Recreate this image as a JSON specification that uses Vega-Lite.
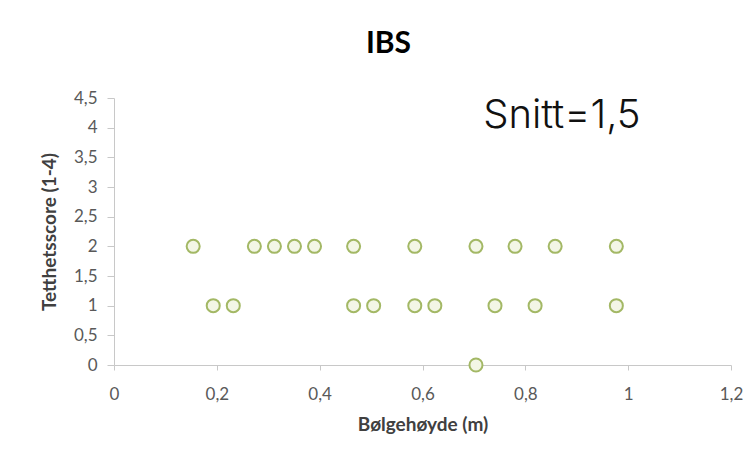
{
  "$schema": "https://vega.github.io/schema/vega-lite/v6.json",
  "autosize": "none",
  "width": 617,
  "height": 267,
  "padding": {"left": 114, "top": 98, "right": 17, "bottom": 93},
  "background": "white",
  "config": {
    "view": {"stroke": null},
    "locale": {"number": {"decimal": ",", "thousands": " ", "grouping": [3], "currency": ["", " kr"]}},
    "font": "Lato"
  },
  "title": {
    "text": "IBS",
    "fontSize": 30,
    "fontWeight": "bold",
    "font": "Lato",
    "color": "#000000",
    "dx": -34,
    "offset": 30,
    "anchor": "middle"
  },
  "layer": [
    {
      "data": {"values": [
        {"x": 0.154, "y": 2}, {"x": 0.273, "y": 2}, {"x": 0.312, "y": 2}, {"x": 0.351, "y": 2},
        {"x": 0.390, "y": 2}, {"x": 0.466, "y": 2}, {"x": 0.585, "y": 2}, {"x": 0.704, "y": 2},
        {"x": 0.780, "y": 2}, {"x": 0.858, "y": 2}, {"x": 0.977, "y": 2},
        {"x": 0.193, "y": 1}, {"x": 0.232, "y": 1}, {"x": 0.466, "y": 1}, {"x": 0.505, "y": 1},
        {"x": 0.585, "y": 1}, {"x": 0.624, "y": 1}, {"x": 0.741, "y": 1}, {"x": 0.819, "y": 1},
        {"x": 0.977, "y": 1},
        {"x": 0.704, "y": 0}
      ]},
      "mark": {"type": "point", "shape": "circle", "filled": false, "stroke": "#a3b865", "strokeWidth": 2, "size": 170, "opacity": 1, "fill": "#f3f6e6", "fillOpacity": 1, "clip": false},
      "encoding": {
        "x": {
          "field": "x", "type": "quantitative",
          "scale": {"domain": [0, 1.2], "nice": false, "zero": true},
          "axis": {
            "title": "Bølgehøyde (m)",
            "values": [0, 0.2, 0.4, 0.6, 0.8, 1, 1.2],
            "format": "~g",
            "grid": false,
            "labelOverlap": false,
            "labelFlush": false,
            "domainColor": "#c8c8c8",
            "tickColor": "#c8c8c8",
            "tickSize": 5,
            "labelFontSize": 17,
            "labelColor": "#595959",
            "labelPadding": 16,
            "titleFontSize": 19,
            "titleFontWeight": "bold",
            "titleColor": "#404040",
            "titlePadding": 13
          }
        },
        "y": {
          "field": "y", "type": "quantitative",
          "scale": {"domain": [0, 4.5], "nice": false},
          "axis": {
            "title": "Tetthetsscore (1-4)",
            "values": [0, 0.5, 1, 1.5, 2, 2.5, 3, 3.5, 4, 4.5],
            "format": "~g",
            "grid": false,
            "labelOverlap": false,
            "labelFlush": false,
            "domainColor": "#c8c8c8",
            "tickColor": "#c8c8c8",
            "tickSize": 7,
            "labelFontSize": 17,
            "labelColor": "#595959",
            "labelPadding": 10,
            "titleFontSize": 19,
            "titleFontWeight": "bold",
            "titleColor": "#404040",
            "titlePadding": 14
          }
        }
      }
    },
    {
      "data": {"values": [{"label": "Snitt=1,5", "x": 0.718, "y": 4.0}]},
      "mark": {"type": "text", "align": "left", "baseline": "alphabetic", "fontSize": 40, "font": "Inter", "fontWeight": 300, "color": "#111111", "clip": false},
      "encoding": {
        "x": {
          "field": "x", "type": "quantitative",
          "axis": {
            "title": "Bølgehøyde (m)",
            "values": [0, 0.2, 0.4, 0.6, 0.8, 1, 1.2],
            "format": "~g",
            "grid": false,
            "labelOverlap": false,
            "labelFlush": false,
            "domainColor": "#c8c8c8",
            "tickColor": "#c8c8c8",
            "tickSize": 5,
            "labelFontSize": 17,
            "labelColor": "#595959",
            "labelPadding": 16,
            "titleFontSize": 19,
            "titleFontWeight": "bold",
            "titleColor": "#404040",
            "titlePadding": 13
          }
        },
        "y": {
          "field": "y", "type": "quantitative",
          "axis": {
            "title": "Tetthetsscore (1-4)",
            "values": [0, 0.5, 1, 1.5, 2, 2.5, 3, 3.5, 4, 4.5],
            "format": "~g",
            "grid": false,
            "labelOverlap": false,
            "labelFlush": false,
            "domainColor": "#c8c8c8",
            "tickColor": "#c8c8c8",
            "tickSize": 7,
            "labelFontSize": 17,
            "labelColor": "#595959",
            "labelPadding": 10,
            "titleFontSize": 19,
            "titleFontWeight": "bold",
            "titleColor": "#404040",
            "titlePadding": 14
          }
        },
        "text": {"field": "label"}
      }
    }
  ]
}
